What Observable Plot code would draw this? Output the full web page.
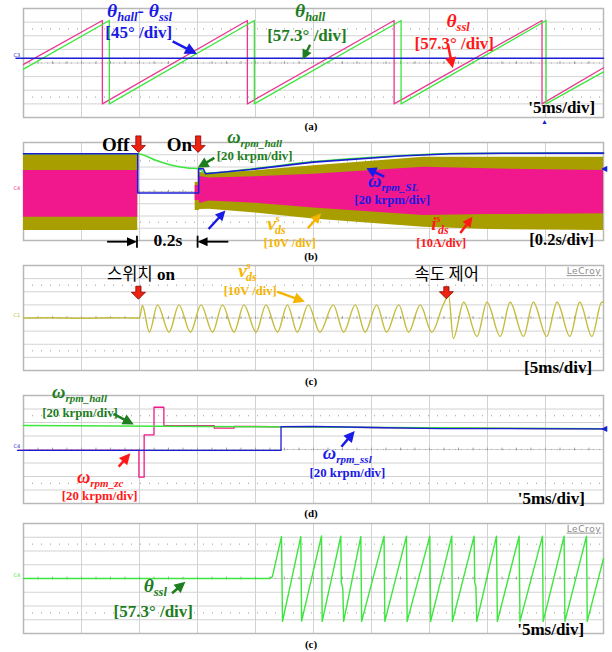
<!DOCTYPE html>
<html><head><meta charset="utf-8">
<script src="https://cdn.jsdelivr.net/npm/d3@7"></script>
<script src="https://cdn.jsdelivr.net/npm/@observablehq/plot@0.6"></script>
<style>
html,body{margin:0;padding:0;background:#fff;}
#root{position:relative;width:612px;height:652px;overflow:hidden;background:#fff;}
</style></head><body><div id="root"></div>
<script>
// ---------- graticule (oscilloscope divisions) ----------
const xDivs = [0,1,2,3,4,5,6,7,8,9,10];
const yDivs = [-4,-3,-2,-1,0,1,2,3,4];
const dottedRows = [-2.5, 2.5];
const panelLabels = ["(a)","(b)","(c)","(d)","(c)"];

// ---------- (a) [time div, value div] ----------
const thetaSslA  = [[0,-0.1],[1.36,3.12],[1.36,-3.0],[3.86,3.12],[3.86,-3.0],[6.39,3.12],[6.39,-3.0],[8.94,3.12],[8.94,-3.0],[10,-0.35]];
const thetaHallA = [[0,-0.45],[1.48,3.12],[1.48,-3.0],[3.98,3.12],[3.98,-3.0],[6.51,3.12],[6.51,-3.0],[9.01,3.12],[9.01,-3.0],[10,-0.65]];
const thetaDiffA = [[-0.13,0.35],[10,0.35]];

// ---------- (b) ----------
const rpmSlB   = [[0,3.08],[1.97,3.08],[1.97,-0.12],[3.02,-0.12],[3.02,1.86],[3.1,1.86],[3.14,1.45],[3.92,1.8],[5.0,2.4],[6.5,2.9],[7.37,3.08],[8.23,3.12],[10,3.13]];
const rpmHallB = [[0,3.08],[1.97,3.08],[2.3,2.51],[2.54,2.16],[2.83,1.92],[3.02,1.86],[3.14,1.5],[3.92,1.84],[5.0,2.44],[6.5,2.92],[7.37,3.1],[10,3.15]];
// [time, v_ds high, v_ds low, i_ds high, i_ds low]
const envB1 = [[0,3.08,-3.18,1.71,-2.10],[1.97,3.08,-3.18,1.71,-2.10]];
const envB2 = [[2.96,0.76,-1.55,0.49,-0.73],[3.03,0.76,-1.55,0.49,-0.73],[3.04,1.58,-1.47,1.22,-0.98],[3.2,1.45,-1.45,1.1,-0.78],[4.0,1.7,-1.75,1.2,-0.95],[5.0,2.1,-2.25,1.4,-1.35],[6.9,2.8,-2.91,1.98,-1.96],[8.0,2.8,-3.1,1.85,-1.88],[10,2.8,-3.18,1.71,-1.82]];

// ---------- (c) v_ds (peaks / troughs) ----------
const vdsC = [[0,0],[0.5,0.02],[1.0,-0.02],[1.5,0.02],[2.0,0],
 [2.05,0.95],[2.17,-1.08],[2.31,1.0],[2.51,-1.08],[2.68,1.0],[2.88,-1.08],[3.06,1.0],[3.26,-1.08],[3.43,1.0],[3.63,-1.08],
 [3.80,1.0],[4.01,-1.08],[4.18,1.0],[4.38,-1.08],[4.55,1.0],[4.72,-1.08],[4.91,1.0],[5.11,-1.08],[5.34,1.0],[5.52,-1.08],
 [5.72,1.0],[5.89,-1.08],[6.09,1.0],[6.26,-1.08],[6.47,1.0],[6.64,-1.08],[6.84,1.0],[7.04,-1.08],[7.24,1.05],[7.33,1.72],
 [7.41,-1.55],[7.59,1.2],[7.82,-1.4],[7.99,1.2],[8.22,-1.4],[8.39,1.2],[8.62,-1.4],[8.79,1.2],[9.02,-1.4],[9.20,1.2],
 [9.42,-1.4],[9.59,1.2],[9.80,-1.4],[9.97,1.2],[10,1.2]];

// ---------- (d) ----------
const rpmHallD = [[0,1.78],[4.9,1.66],[10,1.53]];
const rpmSslD  = [[-0.1,-0.07],[4.44,-0.07],[4.44,1.7],[5.0,1.72],[6.0,1.63],[7.2,1.55],[10,1.53]];
const rpmZcD   = [[-0.1,-0.07],[1.99,-0.07],[1.99,-2.05],[2.08,-2.05],[2.08,1.09],[2.25,1.09],[2.25,3.13],[2.42,3.13],[2.42,1.78],[3.29,1.76],[3.29,1.58],[3.63,1.58],[3.63,1.72],[4.9,1.66],[10,1.53]];

// ---------- (e) theta_ssl ----------
const thetaSslE = [[0,0],[4.23,0],[4.29,0.12],[4.448,3.05],[4.466,-3.12],[4.781,3.05],[4.795,-3.1],[5.138,3.1],[5.15,-3.12],
 [5.471,3.08],[5.48,-0.3],[5.505,-0.7],[5.52,-3.12],[5.816,3.05],[5.83,-3.12],[6.217,3.08],[6.23,-3.12],[6.603,3.08],[6.615,-3.12],
 [7.005,3.08],[7.02,-3.12],[7.384,3.08],[7.395,-3.12],[7.769,3.08],[7.78,-0.3],[7.80,-0.6],[7.815,-3.12],[8.155,3.08],[8.17,-3.12],
 [8.545,3.08],[8.56,-3.12],[8.948,3.08],[8.96,-3.12],[9.321,3.08],[9.335,-3.12],[9.707,3.08],[9.72,-3.12],[10,1.45]];

// ---------- styles ----------
const C = {
  grid:"#d2d2d2", frame:"#b8b8b8",
  olive:"#a89e00", magenta:"#f0188c", blue:"#1c1cd4", green:"#3ce63c",
  pinkA:"#e8388e", wave:"#c4bc3c",
  lblBlue:"#1a1ae6", lblGreen:"#1e7d1e", lblRed:"#ff1a1a", lblOrange:"#f5b400"
};
const SERIF = "'Liberation Serif','Times New Roman',serif";
const KR = "'Noto Sans CJK KR','Noto Sans',sans-serif";
const X = d => d[0], Y = d => d[1];
const root = document.getElementById("root");

function graticule() {
  return [
    Plot.ruleX(xDivs, {stroke: C.grid, strokeWidth: 1}),
    Plot.ruleY(yDivs, {stroke: C.grid, strokeWidth: 1}),
    Plot.ruleY(dottedRows, {stroke: "#9a9a9a", strokeWidth: 1, strokeDasharray: "1,8"}),
    Plot.ruleY([0], {stroke: "#a8a8a8", strokeWidth: 1, strokeDasharray: "1,5"}),
    Plot.ruleX(d3.range(0.25, 10, 0.25), {y1: -0.1, y2: 0.1, stroke: "#a0a0a0", strokeWidth: 1}),
    Plot.frame({stroke: C.frame, strokeWidth: 1.5})
  ];
}

function panel(top, height, mt, mb, marks, label) {
  const chart = Plot.plot({
    width: 612, height, marginTop: mt, marginBottom: mb, marginLeft: 23, marginRight: 9,
    x: {domain: [0, 10], axis: null},
    y: {domain: [-4, 4], axis: null},
    style: {background: "transparent", overflow: "visible"},
    marks: [...graticule(), ...marks]
  });
  const wrap = document.createElement("div");
  wrap.style.cssText = `position:absolute;left:0;top:${top}px;width:612px;height:${height}px;`;
  wrap.appendChild(chart);
  root.appendChild(wrap);
  const xs = chart.scale("x"), ys = chart.scale("y");
  const lin = s => v => s.range[0] + (v - s.domain[0]) / (s.domain[1] - s.domain[0]) * (s.range[1] - s.range[0]);
  const P = {g: d3.select(chart).append("g"), fx: lin(xs), fy: lin(ys)};
  P.g.append("text").attr("x", P.fx(5) - 2).attr("y", P.fy(-4) + label.dy)
    .attr("text-anchor", "middle").attr("font-family", SERIF).attr("font-weight", "bold")
    .attr("font-size", 11).text(label.t);
  return P;
}

function rich(P, x, y, parts, o = {}) {
  const t = P.g.append("text")
    .attr("x", P.fx(x)).attr("y", P.fy(y))
    .attr("fill", o.fill || "#000")
    .attr("font-family", o.family || SERIF)
    .attr("font-size", o.size || 17)
    .attr("font-weight", o.weight || "bold")
    .attr("font-style", o.italic ? "italic" : "normal")
    .attr("text-anchor", o.anchor || "start");
  let cur = 0;
  for (const p of parts) {
    const s = t.append("tspan").text(p.t);
    const off = p.off || 0;
    if (off !== cur) { s.attr("dy", off - cur); cur = off; }
    if (p.dx) s.attr("dx", p.dx);
    if (p.size) s.attr("font-size", p.size);
    if (p.italic !== undefined) s.attr("font-style", p.italic ? "italic" : "normal");
    if (p.family) s.attr("font-family", p.family);
    if (p.weight) s.attr("font-weight", p.weight);
    if (p.fill) s.attr("fill", p.fill);
  }
  return t;
}

function arrow(P, x1, y1, x2, y2, color, o = {}) {
  const X1 = P.fx(x1), Y1 = P.fy(y1), X2 = P.fx(x2), Y2 = P.fy(y2);
  const hl = o.hl || 11, hw = o.hw || 10, w = o.w || 2.5;
  const dx = X2 - X1, dy = Y2 - Y1, L = Math.hypot(dx, dy), ux = dx / L, uy = dy / L;
  const bx = X2 - ux * hl, by = Y2 - uy * hl;
  P.g.append("line").attr("x1", X1).attr("y1", Y1).attr("x2", bx + ux).attr("y2", by + uy)
    .attr("stroke", color).attr("stroke-width", w);
  P.g.append("path").attr("d", `M${X2},${Y2}L${bx - uy * hw / 2},${by + ux * hw / 2}L${bx + uy * hw / 2},${by - ux * hw / 2}Z`)
    .attr("fill", color);
}

function blockDown(P, x, yTop, yTip) {
  const Xc = P.fx(x), T = P.fy(yTop), B = P.fy(yTip);
  const sw = 2.6, hw = 7, hl = 7;
  P.g.append("path")
    .attr("d", `M${Xc - sw},${T}H${Xc + sw}V${B - hl}H${Xc + hw}L${Xc},${B}L${Xc - hw},${B - hl}H${Xc - sw}Z`)
    .attr("fill", "#ee2211").attr("stroke", "#8b0000").attr("stroke-width", 0.8);
}

function dimArrow(P, xTail, xTip, y) {
  arrow(P, xTail, y, xTip, y, "#000", {hl: 10, hw: 9, w: 1.8});
  const Xt = P.fx(xTip), Yt = P.fy(y);
  P.g.append("line").attr("x1", Xt).attr("x2", Xt).attr("y1", Yt - 6).attr("y2", Yt + 6)
    .attr("stroke", "#000").attr("stroke-width", 1.8);
}

function lecroy(P, y) {
  P.g.append("text").attr("x", P.fx(9.97)).attr("y", P.fy(y)).attr("text-anchor", "end")
    .attr("font-family", "'DejaVu Sans',sans-serif").attr("font-size", 9).attr("fill", "#8a8a8a")
    .attr("text-decoration", "underline").attr("letter-spacing", 0.6).text("LeCroy");
}

function chan(P, y, t, color) {
  P.g.append("text").attr("x", P.fx(-0.05)).attr("y", P.fy(y) - 1).attr("text-anchor", "end")
    .attr("font-family", "'DejaVu Sans',sans-serif").attr("font-size", 5).attr("fill", color).text(t);
}

const sub13 = s => ({t: s, size: 12.5, off: 4});
const sub11 = s => ({t: s, size: 11, off: 4});

// ================= (a) =================
{
  const P = panel(0, 132, 8, 15, [
    Plot.line(thetaSslA, {x: X, y: Y, stroke: C.pinkA, strokeWidth: 1.3}),
    Plot.line(thetaHallA, {x: X, y: Y, stroke: C.green, strokeWidth: 1.3}),
    Plot.line(thetaDiffA, {x: X, y: Y, stroke: C.blue, strokeWidth: 1.4})
  ], {t: panelLabels[0], dy: 13});
  chan(P, 0.35, "C3", C.blue);
  rich(P, 1.45, 3.32, [{t: "θ"}, sub13("hall"), {t: "- "}, {t: "θ"}, sub13("ssl")], {fill: C.lblBlue, size: 19.5, italic: true});
  rich(P, 1.42, 1.8, [{t: "[45° /div]"}], {fill: C.lblBlue, size: 17});
  arrow(P, 2.58, 1.55, 3.0, 0.62, C.lblBlue, {hl: 12, hw: 12});
  rich(P, 4.69, 3.32, [{t: "θ"}, sub13("hall")], {fill: C.lblGreen, size: 19.5, italic: true});
  rich(P, 4.21, 1.55, [{t: "[57.3° /div]"}], {fill: C.lblGreen, size: 17});
  arrow(P, 4.95, 1.3, 4.82, 0.2, C.lblGreen, {hl: 10, hw: 10});
  rich(P, 7.3, 2.6, [{t: "θ"}, sub13("ssl")], {fill: C.lblRed, size: 19.5, italic: true});
  rich(P, 6.75, 1.02, [{t: "[57.3° /div]"}], {fill: C.lblRed, size: 17});
  arrow(P, 7.33, 1.25, 7.41, -0.43, C.lblRed, {hl: 11, hw: 11});
  rich(P, 8.71, -3.73, [{t: "'5ms/div]"}], {size: 17});
  P.g.append("text").attr("x", P.fx(8.99)).attr("y", P.fy(-4) + 7).attr("text-anchor", "middle")
    .attr("font-size", 7).attr("fill", C.blue).text("▲");
}

// ================= (b) =================
{
  const P = panel(130, 130, 12, 20, [
    Plot.areaY(envB1, {x: X, y1: d => d[2], y2: d => d[1], fill: C.olive}),
    Plot.areaY(envB1, {x: X, y1: d => d[4], y2: d => d[3], fill: C.magenta}),
    Plot.areaY(envB2, {x: X, y1: d => d[2], y2: d => d[1], fill: C.olive}),
    Plot.areaY(envB2, {x: X, y1: d => d[4], y2: d => d[3], fill: C.magenta}),
    Plot.line(rpmHallB, {x: X, y: Y, stroke: C.green, strokeWidth: 1.5, curve: "monotone-x"}),
    Plot.line(rpmSlB, {x: X, y: Y, stroke: C.blue, strokeWidth: 1.6})
  ], {t: panelLabels[1], dy: 20});
  chan(P, 0, "C4", C.magenta);
  rich(P, 1.36, 3.27, [{t: "Off"}], {size: 19});
  blockDown(P, 1.99, 4.5, 3.15);
  rich(P, 2.48, 3.3, [{t: "On"}], {size: 19});
  blockDown(P, 3.02, 4.5, 3.15);
  rich(P, 3.52, 3.95, [{t: "ω"}, sub11("rpm_hall")], {fill: C.lblGreen, size: 18.5, italic: true});
  rich(P, 3.34, 2.5, [{t: "[20 krpm/div]"}], {fill: C.lblGreen, size: 12.8});
  arrow(P, 3.3, 2.7, 3.01, 1.9, C.lblGreen, {hl: 11, hw: 11});
  arrow(P, 3.2, -3.1, 3.49, -1.6, C.lblBlue, {hl: 10, hw: 10});
  rich(P, 4.21, -3.16, [{t: "v"}, {t: "s", size: 11, off: -8}, {t: "ds", size: 12, off: 4, dx: -5}], {fill: C.lblOrange, size: 19, italic: true});
  rich(P, 4.15, -4.56, [{t: "[10V /div]"}], {fill: C.lblOrange, size: 12.3});
  arrow(P, 4.91, -3.04, 5.14, -1.82, C.lblOrange, {hl: 10, hw: 10});
  rich(P, 5.95, 0.3, [{t: "ω"}, sub11("rpm_SL")], {fill: C.lblBlue, size: 18.5, italic: true});
  rich(P, 5.71, -1.08, [{t: "[20 krpm/div]"}], {fill: C.lblBlue, size: 12.8});
  arrow(P, 6.23, 1.17, 5.92, 1.85, C.lblBlue, {hl: 10, hw: 11});
  rich(P, 7.04, -3.18, [{t: "i"}, {t: "s", size: 11, off: -8}, {t: "ds", size: 12, off: 4, dx: -3}], {fill: C.lblRed, size: 19, italic: true});
  rich(P, 6.78, -4.55, [{t: "[10A/div]"}], {fill: C.lblRed, size: 12.5});
  arrow(P, 7.54, -3.43, 7.75, -2.1, C.lblRed, {hl: 10, hw: 10});
  rich(P, 8.73, -4.41, [{t: "[0.2s/div]"}], {size: 16.5});
  dimArrow(P, 1.45, 1.965, -4.14);
  dimArrow(P, 3.54, 3.01, -4.14);
  rich(P, 2.25, -4.49, [{t: "0.2s"}], {size: 17.5});
  P.g.append("text").attr("x", P.fx(10.02)).attr("y", P.fy(1.86) + 3).attr("font-size", 8).attr("fill", C.blue).text("◀");
}

// ================= (c) =================
{
  const P = panel(260, 128, 5, 18, [
    Plot.line(vdsC, {x: X, y: Y, stroke: C.wave, strokeWidth: 1.4, curve: "monotone-x"})
  ], {t: panelLabels[2], dy: 15});
  chan(P, 0, "C1", C.wave);
  rich(P, 1.45, 2.86, [{t: "스위치", family: KR, weight: "normal", size: 16.5}, {t: " on"}], {size: 17});
  blockDown(P, 1.99, 2.38, 1.39);
  rich(P, 3.71, 3.11, [{t: "v"}, {t: "s", size: 11, off: -8}, {t: "ds", size: 12, off: 4, dx: -5}], {fill: C.lblOrange, size: 19, italic: true});
  rich(P, 3.46, 1.71, [{t: "[10V /div]"}], {fill: C.lblOrange, size: 12.5});
  arrow(P, 4.38, 1.97, 4.86, 1.2, C.lblOrange, {hl: 11, hw: 11});
  rich(P, 6.75, 2.86, [{t: "속도 제어", family: KR, weight: "normal", size: 16.5}], {size: 17});
  blockDown(P, 7.3, 2.35, 1.43);
  rich(P, 8.64, -4.23, [{t: "[5ms/div]"}], {size: 17});
  lecroy(P, 3.3);
}

// ================= (d) =================
{
  const P = panel(388, 132, 7, 17, [
    Plot.line(rpmZcD, {x: X, y: Y, stroke: C.magenta, strokeWidth: 1.3}),
    Plot.line(rpmHallD, {x: X, y: Y, stroke: C.green, strokeWidth: 1.5}),
    Plot.line(rpmSslD, {x: X, y: Y, stroke: C.blue, strokeWidth: 1.3})
  ], {t: panelLabels[3], dy: 14});
  chan(P, 0, "C4", C.blue);
  rich(P, 0.5, 3.75, [{t: "ω"}, sub11("rpm_hall")], {fill: C.lblGreen, size: 18.5, italic: true});
  rich(P, 0.33, 2.4, [{t: "[20 krpm/div]"}], {fill: C.lblGreen, size: 12.8});
  arrow(P, 1.56, 2.6, 1.91, 1.82, C.lblGreen, {hl: 11, hw: 11});
  rich(P, 0.93, -2.5, [{t: "ω"}, sub11("rpm_zc")], {fill: C.lblRed, size: 18.5, italic: true});
  rich(P, 0.67, -3.8, [{t: "[20 krpm/div]"}], {fill: C.lblRed, size: 12.8});
  arrow(P, 1.65, -1.31, 1.85, -0.32, C.lblRed, {hl: 11, hw: 11});
  rich(P, 5.17, -0.75, [{t: "ω"}, sub11("rpm_ssl")], {fill: C.lblBlue, size: 18.5, italic: true});
  rich(P, 4.94, -2.1, [{t: "[20 krpm/div]"}], {fill: C.lblBlue, size: 12.8});
  arrow(P, 5.49, 0.17, 5.72, 1.33, C.lblBlue, {hl: 11, hw: 11});
  rich(P, 8.53, -4.1, [{t: "'5ms/div]"}], {size: 17});
  P.g.append("text").attr("x", P.fx(10.02)).attr("y", P.fy(1.53) + 3).attr("font-size", 8).attr("fill", C.blue).text("◀");
}

// ================= (e) =================
{
  const P = panel(518, 134, 5, 19, [
    Plot.line(thetaSslE, {x: X, y: Y, stroke: C.green, strokeWidth: 1.4})
  ], {t: panelLabels[4], dy: 15});
  chan(P, 0, "C4", C.green);
  rich(P, 2.08, -1.05, [{t: "θ"}, sub13("ssl")], {fill: C.lblGreen, size: 19.5, italic: true});
  arrow(P, 2.57, -1.11, 2.8, -0.27, C.lblGreen, {hl: 11, hw: 11});
  rich(P, 1.56, -2.85, [{t: "[57.3° /div]"}], {fill: C.lblGreen, size: 17});
  rich(P, 8.52, -4.15, [{t: "'5ms/div]"}], {size: 17});
  lecroy(P, 3.37);
}
</script></body></html>
